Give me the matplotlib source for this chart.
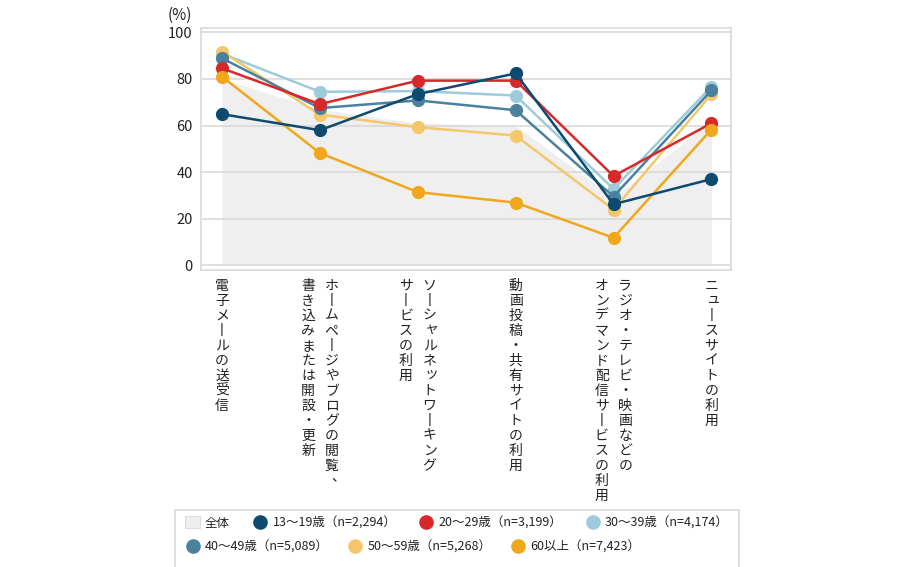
import matplotlib as mpl
mpl.use('Agg')
import matplotlib.pyplot as plt
from matplotlib.patches import Rectangle, Patch
from matplotlib.lines import Line2D

plt.rcParams['font.family'] = ['Noto Sans CJK JP', 'DejaVu Sans']

######### data ##################
categories = ['電子メールの送受信',
              'ホームページやブログの閲覧、\n書き込みまたは開設・更新',
              'ソーシャルネットワーキング\nサービスの利用',
              '動画投稿・共有サイトの利用',
              'ラジオ・テレビ・映画などの\nオンデマンド配信サービスの利用',
              'ニュースサイトの利用']
overall = [80, 67, 61, 60, 29, 62]
age13_19 = [64.9, 58.0, 73.5, 82.4, 26.2, 37.0]
age20_29 = [84.6, 69.2, 79.3, 79.3, 38.3, 61.0]
age30_39 = [90.9, 74.5, 74.8, 72.9, 32.8, 76.7]
age40_49 = [88.9, 67.5, 70.8, 66.6, 29.5, 75.1]
age50_59 = [91.8, 64.7, 59.3, 55.7, 23.9, 73.4]
age60 = [81.0, 48.2, 31.4, 26.9, 11.8, 58.3]
series_labels = ['13～19歳（n=2,294）', '20～29歳（n=3,199）', '30～39歳（n=4,174）',
                 '40～49歳（n=5,089）', '50～59歳（n=5,268）', '60以上（n=7,423）']
yticks = [0, 20, 40, 60, 80, 100]

# colours
c_navy = '#0d4a70'
c_red = '#d7282a'
c_lblue = '#9dcbdc'
c_steel = '#4a819f'
c_lorange = '#f3c76a'
c_orange = '#f0a71b'
grid_c = '#d9d9d9'
txt_c = '#222222'

fig = plt.figure(figsize=(9, 5.67), dpi=100)
ax = fig.add_axes([0.2233, 0.524, 0.5889, 0.427])

x = list(range(len(categories)))
ax.fill_between(x, 0, overall, color='#efefef', lw=0, zorder=0.2)

# drawing order (bottom -> top) follows the reference overlaps
draw = [(age30_39, c_lblue), (age50_59, c_lorange), (age40_49, c_steel),
        (age20_29, c_red), (age60, c_orange), (age13_19, c_navy)]
for i, (vals, col) in enumerate(draw):
    ax.plot(x, vals, color=col, lw=1.8, marker='o', ms=8.5, mec=col,
            zorder=3 + i, solid_capstyle='round')

ax.set_xlim(-0.215, 5.2)
ax.set_ylim(-2, 102)
ax.set_yticks(yticks)
ax.set_yticklabels([str(v) for v in yticks], fontsize=10.5, color=txt_c)
ax.tick_params(axis='y', length=0, pad=6)
ax.set_xticks([])
ax.set_axisbelow(True)
ax.yaxis.grid(True, color=grid_c, lw=1.2)
for s in ax.spines.values():
    s.set_color(grid_c)
    s.set_linewidth(1.2)

ax.text(-0.017, 1.05, '(%)', transform=ax.transAxes, ha='right', va='center',
        fontsize=11, color=txt_c)

# vertical (tategaki) category labels, one glyph at a time
small = set('ャュョッィァェォ')
step = 10.8  # points per character
colgap = 17  # points between columns
for i, lab in enumerate(categories):
    lines = lab.split('\n')
    n = len(lines)
    for j, line in enumerate(lines):
        # first line on the right
        dx = ((n - 1) / 2.0 - j) * colgap
        for k, ch in enumerate(line):
            dy = -11.5 - k * step
            ox, oy = 0, 0
            if ch == 'ー':
                ch = '丨'  # vertical form of the long vowel mark
            elif ch == '、':
                ox, oy = 5, 3
            elif ch in small:
                ox, oy = 1.5, 1.5
            ax.annotate(ch, xy=(i, 0), xycoords=('data', 'axes fraction'),
                        xytext=(dx + ox, dy + oy), textcoords='offset points',
                        ha='center', va='center',
                        fontsize=10, color=txt_c, annotation_clip=False)

# legend box
fig.patches.append(Rectangle((175 / 900, -0.02), 564 / 900, (567 - 510) / 567 + 0.02,
                             transform=fig.transFigure, fill=False,
                             edgecolor=grid_c, lw=1.2))

line_cols = [c_navy, c_red, c_lblue, c_steel, c_lorange, c_orange]
handles = [Line2D([], [], ls='none', marker='o', ms=9.5, color=c, mec=c)
           for c in line_cols]
h_all = Patch(facecolor='#efefef', edgecolor='#dddddd', lw=0.8)

kw = dict(frameon=False, fontsize=9, handlelength=1.2, handletextpad=0.4,
          borderpad=0, borderaxespad=0, labelcolor=txt_c)
leg1 = fig.legend([h_all] + handles[:3], ['全体'] + series_labels[:3], ncol=4,
                  loc='center left', bbox_to_anchor=(185 / 900, 1 - 523 / 567),
                  handleheight=1.1, columnspacing=1.8, **kw)
leg2 = fig.legend(handles[3:], series_labels[3:], ncol=3,
                  loc='center left', bbox_to_anchor=(185 / 900, 1 - 547 / 567),
                  columnspacing=1.5, **kw)

fig.savefig('out.png', dpi=100)
